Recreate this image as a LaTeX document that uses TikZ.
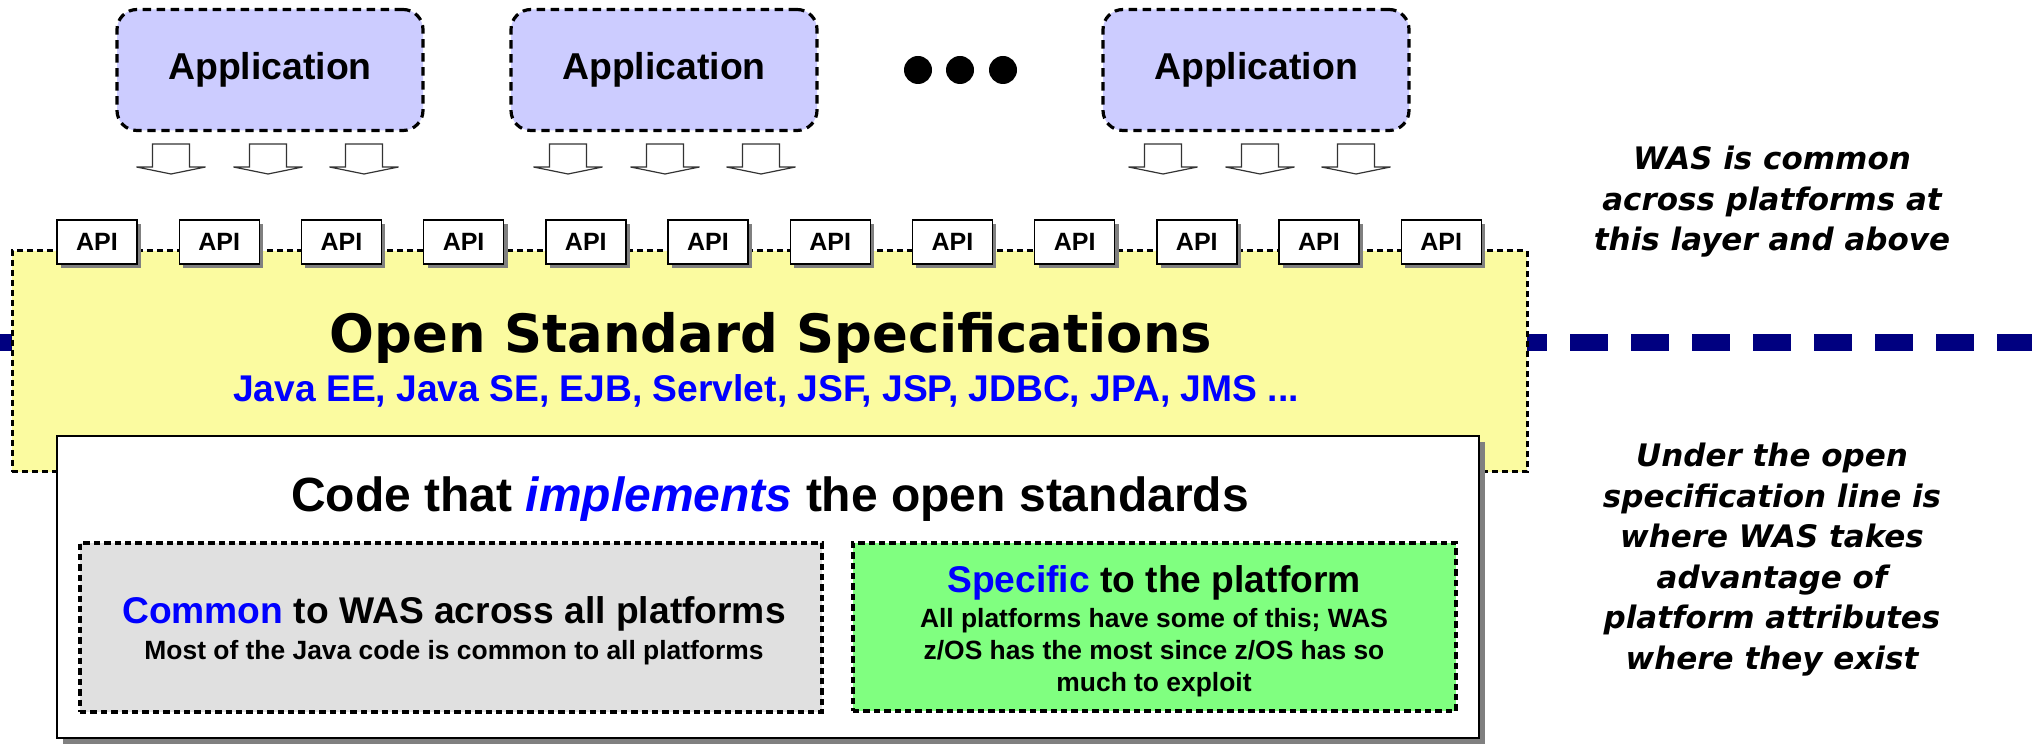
\documentclass[tikz,border=0pt]{standalone}
\usepackage{fontspec}
\setmainfont{Liberation Sans}
\newfontfamily\verdana{DejaVu Sans}
\usetikzlibrary{positioning,shadows}

\definecolor{appfill}{HTML}{CCCCFF}
\definecolor{specfill}{HTML}{FBFBA0}
\definecolor{commonfill}{HTML}{E0E0E0}
\definecolor{platfill}{HTML}{80FF80}
\definecolor{navy}{HTML}{000080}
\definecolor{hiblue}{HTML}{0000FF}
\newcommand{\setsz}[2]{\fontsize{#1}{#2}\selectfont}

\begin{document}
\begin{tikzpicture}[x=0.5pt,y=-0.5pt,
    app/.style={draw,line width=1.6pt,dash pattern=on 4.2pt off 2.8pt,
        rounded corners=10pt,fill=appfill,minimum width=153pt,
        minimum height=60.5pt,font=\setsz{18.7}{22}\bfseries},
    hollow/.style={draw=black!80,line width=0.6pt,fill=white},
    moredot/.style={circle,fill=black,minimum size=14pt,inner sep=0pt},
    api/.style={draw,line width=0.7pt,fill=white,minimum width=40pt,
        minimum height=22pt,inner sep=0pt,font=\setsz{12.5}{15}\bfseries,
        drop shadow={opacity=1,fill=black!50,shadow xshift=2pt,shadow yshift=-2pt}},
    specbox/.style={draw,fill=specfill,line width=1.5pt,
        dash pattern=on 2.8pt off 2.2pt,inner sep=0pt},
    implbox/.style={draw,fill=white,line width=0.8pt,inner sep=0pt,
        drop shadow={opacity=1,fill=black!50,shadow xshift=3pt,shadow yshift=-3pt}},
    partbox/.style={draw,line width=1.6pt,dash pattern=on 3.2pt off 2pt,inner sep=0pt},
    specline/.style={line width=8.5pt,navy,dash pattern=on 19pt off 11.5pt,dash phase=8pt},
    txt/.style={anchor=base,inner sep=0pt,align=center},
    note/.style={txt,font=\verdana\setsz{15.5}{20.25}\bfseries\itshape}
]
\useasboundingbox (0,0) rectangle (2032,747);

% the open specification line, behind the layer
\coordinate (lineL) at (0,343);
\coordinate (lineR) at (2032,343);
\draw[specline] (lineL) -- (lineR);

% applications
\node[app] (app1) at (270,70) {Application};
\node[app] (app2) at (664,70) {Application};
\node[app] (app3) at (1256,70) {Application};
\node[moredot] (dot1) at (918,70) {};
\node[moredot] (dot2) at (960,70) {};
\node[moredot] (dot3) at (1003,70) {};

% calls down into the APIs
\foreach \cx in {268,665,1260}
  \foreach \dx in {-97,0,96}
    \draw[hollow] (\cx+\dx-18.5,144) -- ++(0,23) -- ++(-16,0) -- ++(34.5,7)
        -- ++(34.5,-7) -- ++(-16,0) -- ++(0,-23) -- cycle;

% open standard layer
\node[specbox,minimum width=757.5pt,minimum height=110.5pt] (spec) at (769.5,361.5) {};
\foreach \i in {1,...,12}
  \node[api] (api\i) at ({97+122.2*(\i-1)},242) {API};
\node[txt,font=\verdana\setsz{26.4}{30}\bfseries] (title) at (771,353)
    {Open Standard Specifications};
\node[txt,text=hiblue,font=\setsz{18.6}{22}\bfseries] (specs) at (766,402)
    {Java EE, Java SE, EJB, Servlet, JSF, JSP, JDBC, JPA, JMS ...};

% implementation
\node[implbox,minimum width=711pt,minimum height=151pt] (impl) at (768,587) {};
\node[txt,font=\setsz{24}{28}\bfseries] (impltitle) at (770,512)
    {Code that \textcolor{hiblue}{\itshape implements} the open standards};
\node[partbox,fill=commonfill,minimum width=371pt,minimum height=84.5pt] (common) at (451,627.5) {};
\node[partbox,fill=platfill,minimum width=301.5pt,minimum height=84pt] (platform) at (1154.5,627) {};
\node[txt,font=\setsz{18.6}{22}\bfseries] (commonhead) at (454,624)
    {\textcolor{hiblue}{Common} to WAS across all platforms};
\node[txt,font=\setsz{13.2}{16}\bfseries] (commonbody) at (454,659)
    {Most of the Java code is common to all platforms};
\node[txt,font=\setsz{18.6}{22}\bfseries] (plathead) at (1154,592)
    {\textcolor{hiblue}{Specific} to the platform};
\node[txt,font=\setsz{13.2}{16}\bfseries] (platbody) at (1154,691)
    {All platforms have some of this; WAS\\ z/OS has the most since z/OS has so\\ much to exploit};

% notes on the right
\node[note] (abovenote) at (1772,251)
    {WAS is common\\ across platforms at\\ this layer and above};
\node[note] (belownote) at (1772,669)
    {Under the open\\ specification line is\\ where WAS takes\\ advantage of\\ platform attributes\\ where they exist};
\end{tikzpicture}
\end{document}
